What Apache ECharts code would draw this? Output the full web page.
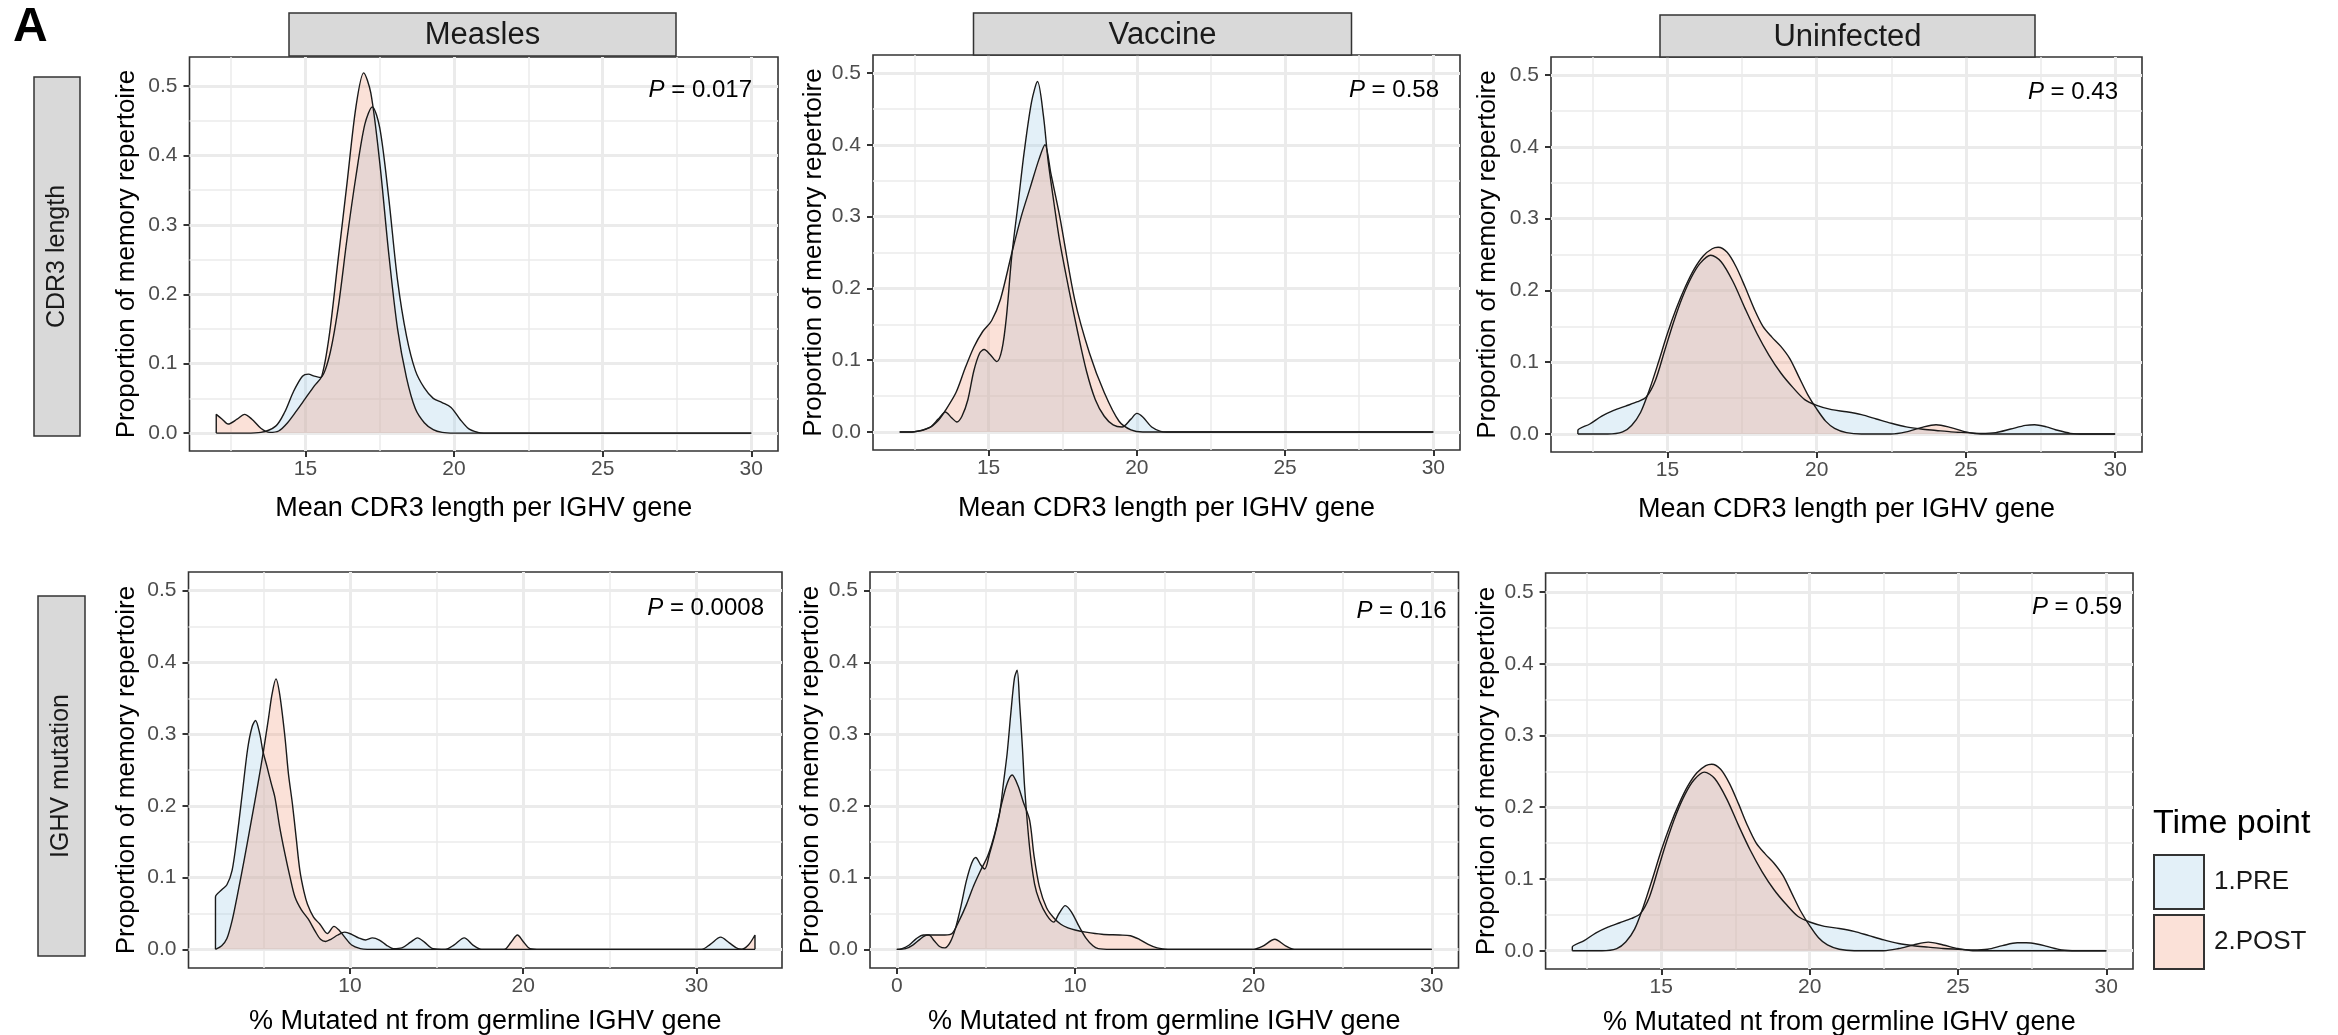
<!DOCTYPE html>
<html>
<head>
<meta charset="utf-8">
<script src="https://cdn.jsdelivr.net/npm/echarts@6/dist/echarts.min.js"></script>
<style>html,body{margin:0;padding:0;background:#fff}#c{width:2338px;height:1035px}</style>
</head>
<body>
<div id="c"></div>
<script>
// ---------------- DATA ----------------
const columns = ['Measles', 'Vaccine', 'Uninfected'];
const rows = ['CDR3 length', 'IGHV mutation'];
const timePoints = ['1.PRE', '2.POST'];
const legendTitle = 'Time point';
const panelLetter = 'A';
const pValues = ['0.017', '0.58', '0.43', '0.0008', '0.16', '0.59'];
const yTitle = 'Proportion of memory repertoire';
const xTitles = ['Mean CDR3 length per IGHV gene', '% Mutated nt from germline IGHV gene'];

const yTicks = [0, 0.1, 0.2, 0.3, 0.4, 0.5];
const yMinor = [0.05, 0.15, 0.25, 0.35, 0.45];
const cdr3Ticks = [15, 20, 25, 30];
const cdr3Minor = [12.5, 17.5, 22.5, 27.5];
const mutTicksMeasles = [10, 20, 30];
const mutMinorMeasles = [5, 15, 25];
const mutTicksVaccine = [0, 10, 20, 30];
const mutMinorVaccine = [5, 15, 25];

// Measles – CDR3 length
const measlesCdr3Pre = [[12,0],[13,0],[13.5,0.001],[14,0.01],[14.3,0.03],[14.6,0.06],[14.9,0.082],[15.1,0.085],[15.3,0.082],[15.5,0.08],[15.8,0.11],[16.1,0.18],[16.4,0.28],[16.7,0.37],[17,0.445],[17.25,0.47],[17.5,0.44],[17.8,0.34],[18.1,0.22],[18.4,0.14],[18.7,0.09],[19,0.065],[19.3,0.05],[19.6,0.044],[19.9,0.037],[20.2,0.02],[20.5,0.006],[20.8,0.001],[21,0],[22,0],[24,0],[26,0],[28,0],[30,0]];
const measlesCdr3Post = [[12,0],[12,0.027],[12.2,0.02],[12.4,0.013],[12.7,0.02],[12.95,0.027],[13.2,0.02],[13.5,0.007],[13.8,0.001],[14.1,0.003],[14.4,0.015],[14.7,0.032],[15,0.05],[15.3,0.068],[15.55,0.082],[15.8,0.14],[16.1,0.25],[16.4,0.36],[16.7,0.47],[16.96,0.519],[17.2,0.49],[17.5,0.39],[17.8,0.26],[18.1,0.15],[18.4,0.08],[18.7,0.035],[19,0.015],[19.3,0.005],[19.6,0.001],[20,0],[22,0],[24,0],[26,0],[28,0],[30,0]];

// Vaccine – CDR3 length
const vaccineCdr3Pre = [[12,0],[12.5,0.0005],[13,0.006],[13.3,0.018],[13.54,0.028],[13.75,0.02],[13.93,0.014],[14.1,0.022],[14.3,0.045],[14.5,0.085],[14.7,0.11],[14.85,0.115],[15.05,0.108],[15.28,0.098],[15.45,0.115],[15.6,0.16],[15.78,0.245],[16,0.32],[16.2,0.39],[16.45,0.46],[16.65,0.488],[16.85,0.44],[17,0.38],[17.2,0.32],[17.4,0.265],[17.7,0.2],[18,0.14],[18.3,0.085],[18.6,0.045],[18.9,0.022],[19.2,0.01],[19.5,0.007],[19.8,0.018],[20,0.026],[20.2,0.021],[20.5,0.007],[20.8,0.001],[21,0],[22,0],[24,0],[26,0],[28,0],[30,0]];
const vaccineCdr3Post = [[12,0],[12.5,0.0005],[13,0.006],[13.3,0.016],[13.54,0.03],[13.9,0.055],[14.2,0.088],[14.5,0.118],[14.8,0.14],[15.1,0.155],[15.4,0.185],[15.78,0.249],[16.1,0.3],[16.4,0.34],[16.7,0.38],[16.9,0.4],[17.1,0.36],[17.4,0.3],[17.9,0.185],[18.4,0.11],[18.9,0.055],[19.4,0.015],[19.8,0.003],[20.2,0],[22,0],[24,0],[26,0],[28,0],[30,0]];

// Uninfected – CDR3 length
const uninfCdr3Pre = [[12,0],[12,0.005],[12.4,0.014],[12.8,0.025],[13.2,0.033],[13.6,0.039],[14,0.045],[14.3,0.052],[14.6,0.075],[14.9,0.115],[15.2,0.155],[15.5,0.19],[15.8,0.218],[16.1,0.238],[16.45,0.249],[16.8,0.24],[17.2,0.212],[17.6,0.175],[18,0.14],[18.4,0.11],[18.8,0.085],[19.2,0.065],[19.6,0.048],[20,0.04],[20.5,0.034],[21,0.031],[21.5,0.027],[22,0.021],[22.5,0.015],[23,0.01],[23.5,0.007],[24,0.005],[24.5,0.003],[25,0.002],[25.5,0.001],[26,0.002],[26.5,0.007],[27,0.012],[27.3,0.013],[27.7,0.01],[28,0.006],[28.5,0.001],[29,0],[30,0]];
const uninfCdr3Post = [[12,0],[13,0],[13.5,0.003],[13.8,0.012],[14.1,0.03],[14.4,0.062],[14.7,0.1],[15,0.14],[15.3,0.175],[15.6,0.205],[15.9,0.23],[16.2,0.248],[16.5,0.258],[16.7,0.26],[17,0.253],[17.3,0.233],[17.6,0.205],[17.9,0.175],[18.2,0.15],[18.5,0.135],[18.8,0.122],[19.1,0.105],[19.4,0.08],[19.7,0.055],[20,0.035],[20.3,0.018],[20.6,0.008],[21,0.002],[21.5,0],[22.5,0],[23,0.003],[23.5,0.009],[24,0.013],[24.5,0.009],[25,0.003],[25.5,0],[27,0],[30,0]];

// Measles – IGHV mutation
const measlesMutPre = [[2.24,0],[2.24,0.073],[2.6,0.083],[2.9,0.09],[3.2,0.11],[3.5,0.16],[3.8,0.22],[4.1,0.28],[4.35,0.31],[4.55,0.319],[4.8,0.3],[4.97,0.277],[5.2,0.256],[5.45,0.232],[5.67,0.212],[5.95,0.17],[6.25,0.133],[6.55,0.1],[6.83,0.073],[7.2,0.055],[7.6,0.042],[8,0.025],[8.3,0.014],[8.6,0.011],[8.9,0.014],[9.3,0.02],[9.7,0.024],[10.1,0.021],[10.5,0.016],[10.9,0.013],[11.3,0.016],[11.7,0.013],[12.1,0.006],[12.5,0.001],[13,0.002],[13.5,0.01],[13.9,0.016],[14.3,0.01],[14.8,0.001],[15.5,0],[16,0.006],[16.6,0.016],[17.1,0.006],[17.6,0],[20,0],[25,0],[30.3,0],[30.8,0.007],[31.4,0.017],[31.9,0.009],[32.4,0.001],[32.9,0],[33.38,0]];
const measlesMutPost = [[2.24,0],[2.6,0.005],[2.9,0.015],[3.2,0.04],[3.5,0.075],[3.9,0.125],[4.3,0.178],[4.7,0.232],[5,0.275],[5.3,0.322],[5.5,0.355],[5.73,0.377],[5.95,0.355],[6.25,0.296],[6.45,0.245],[6.68,0.203],[6.9,0.155],[7.11,0.11],[7.35,0.08],[7.55,0.063],[7.9,0.045],[8.27,0.035],[8.7,0.022],[9.08,0.032],[9.4,0.026],[9.7,0.017],[10.1,0.006],[10.6,0.001],[11,0],[15,0],[18.9,0],[19.3,0.01],[19.67,0.02],[20,0.011],[20.4,0.001],[21,0],[25,0],[30,0],[32.6,0],[33,0.006],[33.38,0.02],[33.38,0]];

// Vaccine – IGHV mutation
const vaccineMutPre = [[0,0],[0.3,0.001],[0.7,0.006],[1.1,0.015],[1.5,0.02],[1.8,0.02],[2.1,0.012],[2.4,0.004],[2.7,0.002],[3,0.01],[3.3,0.03],[3.6,0.06],[3.9,0.095],[4.2,0.12],[4.43,0.128],[4.7,0.118],[4.93,0.112],[5.2,0.133],[5.5,0.16],[5.77,0.19],[6.0,0.235],[6.19,0.273],[6.4,0.33],[6.6,0.378],[6.75,0.389],[6.89,0.343],[7.05,0.28],[7.17,0.226],[7.45,0.142],[7.73,0.091],[8,0.068],[8.4,0.048],[8.8,0.038],[9.1,0.05],[9.45,0.061],[9.8,0.052],[10.2,0.033],[10.6,0.016],[11,0.005],[11.3,0.001],[12,0],[15,0],[20,0],[25,0],[30,0]];
const vaccineMutPost = [[0,0],[0.5,0.001],[0.9,0.006],[1.3,0.014],[1.7,0.02],[2.2,0.02],[2.7,0.02],[3.1,0.022],[3.5,0.04],[3.9,0.062],[4.3,0.088],[4.7,0.11],[5.1,0.13],[5.5,0.162],[5.9,0.205],[6.2,0.232],[6.47,0.243],[6.8,0.228],[7.1,0.205],[7.45,0.18],[7.7,0.13],[8,0.087],[8.4,0.058],[8.8,0.044],[9.2,0.035],[9.6,0.03],[10,0.027],[10.6,0.024],[11.5,0.021],[12.5,0.02],[13.1,0.019],[13.6,0.014],[14.1,0.007],[14.6,0.002],[15.2,0],[20,0],[20.5,0.004],[21.2,0.014],[21.8,0.005],[22.3,0],[25,0],[30,0]];

// Uninfected – IGHV mutation
const uninfMutPre = [[12,0],[12,0.005],[12.4,0.014],[12.8,0.025],[13.2,0.033],[13.6,0.039],[14,0.045],[14.3,0.052],[14.6,0.075],[14.9,0.115],[15.2,0.155],[15.5,0.19],[15.8,0.218],[16.1,0.238],[16.45,0.249],[16.8,0.24],[17.2,0.212],[17.6,0.175],[18,0.14],[18.4,0.11],[18.8,0.085],[19.2,0.065],[19.6,0.048],[20,0.04],[20.5,0.034],[21,0.031],[21.5,0.027],[22,0.021],[22.5,0.015],[23,0.01],[23.5,0.007],[24,0.005],[24.5,0.003],[25,0.002],[25.5,0.001],[26,0.002],[26.5,0.007],[27,0.011],[27.3,0.011],[27.7,0.009],[28,0.006],[28.5,0.001],[29,0],[30,0]];
const uninfMutPost = [[12,0],[13,0],[13.5,0.003],[13.8,0.012],[14.1,0.03],[14.4,0.062],[14.7,0.1],[15,0.14],[15.3,0.175],[15.6,0.205],[15.9,0.23],[16.2,0.248],[16.5,0.258],[16.7,0.26],[17,0.253],[17.3,0.233],[17.6,0.205],[17.9,0.175],[18.2,0.15],[18.5,0.135],[18.8,0.122],[19.1,0.105],[19.4,0.08],[19.7,0.055],[20,0.035],[20.3,0.018],[20.6,0.008],[21,0.002],[21.5,0],[22.5,0],[23,0.003],[23.5,0.008],[24,0.012],[24.5,0.008],[25,0.003],[25.5,0],[27,0],[30,0]];

// ---------------- STYLE / LAYOUT ----------------
const FONT = "'Liberation Sans', Arial, Helvetica, sans-serif";
const PRE_FILL = 'rgba(162,205,232,0.3)';
const POST_FILL = 'rgba(242,155,125,0.3)';
const OUTLINE = '#1a1a1a';

const panels = [
  {pre: measlesCdr3Pre, post: measlesCdr3Post, xt: cdr3Ticks, xm: cdr3Minor, xTitle: xTitles[0], p: pValues[0],
   box: {left:189.5, top:57, width:588.5, height:394}, x:[11.1,30.9], y:[-0.0258,0.5418], yGap:50, xGap:44, pX:752, pY:90},
  {pre: vaccineCdr3Pre, post: vaccineCdr3Post, xt: cdr3Ticks, xm: cdr3Minor, xTitle: xTitles[0], p: pValues[1],
   box: {left:873, top:55, width:587, height:395}, x:[11.1,30.9], y:[-0.025,0.525], yGap:46, xGap:45, pX:1439, pY:90},
  {pre: uninfCdr3Pre, post: uninfCdr3Post, xt: cdr3Ticks, xm: cdr3Minor, xTitle: xTitles[0], p: pValues[2],
   box: {left:1551, top:57, width:591, height:395}, x:[11.1,30.9], y:[-0.025,0.525], yGap:50, xGap:44, pX:2118, pY:92},
  {pre: measlesMutPre, post: measlesMutPost, xt: mutTicksMeasles, xm: mutMinorMeasles, xTitle: xTitles[1], p: pValues[3],
   box: {left:188.5, top:572, width:593.5, height:396}, x:[0.683,34.94], y:[-0.026,0.526], yGap:49, xGap:40, pX:764, pY:608.5},
  {pre: vaccineMutPre, post: vaccineMutPost, xt: mutTicksVaccine, xm: mutMinorVaccine, xTitle: xTitles[1], p: pValues[4],
   box: {left:870, top:572, width:588.5, height:396}, x:[-1.5,31.5], y:[-0.026,0.526], yGap:46.5, xGap:40, pX:1446.5, pY:611},
  {pre: uninfMutPre, post: uninfMutPost, xt: cdr3Ticks, xm: cdr3Minor, xTitle: xTitles[1], p: pValues[5],
   box: {left:1545.6, top:573, width:587.4, height:396}, x:[11.1,30.9], y:[-0.0255,0.5265], yGap:45.5, xGap:40, pX:2122, pY:607}
];

const colStrips = [
  {x:289, y:13, w:387, h:43},
  {x:973.5, y:13, w:378, h:42},
  {x:1660, y:15, w:375, h:42}
];
const rowStrips = [
  {x:34, y:77, w:46, h:359},
  {x:38, y:596, w:47, h:360}
];

const grids = [], xAxes = [], yAxes = [], series = [], graphics = [];

panels.forEach((pn, i) => {
  grids.push(Object.assign({
    show: true, borderColor: '#333333', borderWidth: 1.6, backgroundColor: '#ffffff',
    containLabel: false, outerBoundsMode: 'none'
  }, pn.box));

  xAxes.push({
    gridIndex: i, type: 'value', min: pn.x[0], max: pn.x[1],
    name: pn.xTitle, nameLocation: 'middle', nameGap: pn.xGap, nameMoveOverlap: false,
    nameTextStyle: {fontSize: 27, color: '#000', fontFamily: FONT},
    axisLine: {show: false, onZero: false},
    axisTick: {show: true, customValues: pn.xt, length: 6, lineStyle: {color: '#333', width: 2}},
    axisLabel: {show: true, customValues: pn.xt, margin: 8, fontSize: 21, color: '#4d4d4d', fontFamily: FONT},
    splitLine: {show: false}, minorTick: {show: false}, minorSplitLine: {show: false}
  });
  yAxes.push({
    gridIndex: i, type: 'value', min: pn.y[0], max: pn.y[1],
    name: yTitle, nameLocation: 'middle', nameGap: pn.yGap, nameMoveOverlap: false,
    nameTextStyle: {fontSize: 26, color: '#000', fontFamily: FONT},
    axisLine: {show: false, onZero: false},
    axisTick: {show: true, customValues: yTicks, length: 6, lineStyle: {color: '#333', width: 2}},
    axisLabel: {show: true, customValues: yTicks, margin: 12, fontSize: 21, color: '#4d4d4d', fontFamily: FONT,
                formatter: v => Number(v).toFixed(1)},
    splitLine: {show: false}, minorTick: {show: false}, minorSplitLine: {show: false}
  });

  const gl = [];
  pn.xt.forEach(v => gl.push({xAxis: v, lineStyle: {color: '#ebebeb', width: 3, type: 'solid'}}));
  pn.xm.forEach(v => gl.push({xAxis: v, lineStyle: {color: '#ebebeb', width: 1.5, type: 'solid'}}));
  yTicks.forEach(v => gl.push({yAxis: v, lineStyle: {color: '#ebebeb', width: 3, type: 'solid'}}));
  yMinor.forEach(v => gl.push({yAxis: v, lineStyle: {color: '#ebebeb', width: 1.5, type: 'solid'}}));

  series.push({
    name: 'gridlines' + i, type: 'line', xAxisIndex: i, yAxisIndex: i, data: [], silent: true, z: 1,
    markLine: {silent: true, z: 1, symbol: ['none', 'none'], label: {show: false}, animation: false,
               emphasis: {disabled: true}, data: gl}
  });
  [[timePoints[0], pn.pre, PRE_FILL], [timePoints[1], pn.post, POST_FILL]].forEach(([nm, d, fill]) => {
    series.push({
      name: nm, type: 'line', xAxisIndex: i, yAxisIndex: i, data: d, z: 3,
      smooth: 0.3, symbol: 'none', showSymbol: false, silent: true,
      lineStyle: {color: OUTLINE, width: 1.4},
      itemStyle: {color: fill},
      areaStyle: {color: fill, opacity: 1},
      emphasis: {disabled: true}
    });
  });

  graphics.push({
    type: 'text', silent: true, z: 100,
    style: {
      text: '{i|P} = ' + pn.p, x: pn.pX, y: pn.pY, align: 'right', verticalAlign: 'middle',
      textAlign: 'right', textVerticalAlign: 'middle',
      fontSize: 24, fontFamily: FONT, fill: '#000',
      rich: {i: {fontStyle: 'italic', fontSize: 24, fontFamily: FONT, fill: '#000'}}
    }
  });
});

colStrips.forEach((s, i) => {
  graphics.push({type: 'rect', silent: true, z: 100, shape: {x: s.x, y: s.y, width: s.w, height: s.h},
                 style: {fill: '#d9d9d9', stroke: '#333333', lineWidth: 1.5}});
  graphics.push({type: 'text', silent: true, z: 101,
                 style: {text: columns[i], x: s.x + s.w / 2, y: s.y + s.h / 2 + 1, align: 'center', verticalAlign: 'middle',
                         textAlign: 'center', textVerticalAlign: 'middle', fontSize: 31, fontFamily: FONT, fill: '#1a1a1a'}});
});
rowStrips.forEach((s, i) => {
  graphics.push({type: 'rect', silent: true, z: 100, shape: {x: s.x, y: s.y, width: s.w, height: s.h},
                 style: {fill: '#d9d9d9', stroke: '#333333', lineWidth: 1.5}});
  graphics.push({type: 'text', silent: true, z: 101, x: s.x + s.w / 2, y: s.y + s.h / 2, rotation: Math.PI / 2,
                 style: {text: rows[i], x: 0, y: 0, align: 'center', verticalAlign: 'middle',
                         textAlign: 'center', textVerticalAlign: 'middle', fontSize: 25, fontFamily: FONT, fill: '#1a1a1a'}});
});

graphics.push({type: 'text', silent: true, z: 100,
  style: {text: panelLetter, x: 13, y: 4, align: 'left', verticalAlign: 'top', textAlign: 'left', textVerticalAlign: 'top',
          fontSize: 48, fontWeight: 'bold', fontFamily: FONT, fill: '#000'}});
graphics.push({type: 'text', silent: true, z: 100,
  style: {text: legendTitle, x: 2153, y: 807, align: 'left', verticalAlign: 'top', textAlign: 'left', textVerticalAlign: 'top',
          fontSize: 34, fontFamily: FONT, fill: '#000'}});

const chart = echarts.init(document.getElementById('c'), null, {renderer: 'canvas', width: 2338, height: 1035});
chart.setOption({
  animation: false,
  backgroundColor: '#ffffff',
  grid: grids,
  xAxis: xAxes,
  yAxis: yAxes,
  legend: {
    show: true, left: 2153, top: 854, orient: 'vertical', padding: 0,
    itemWidth: 50, itemHeight: 54, itemGap: 4, selectedMode: false, icon: 'rect',
    textStyle: {fontSize: 26, color: '#1a1a1a', fontFamily: FONT, padding: [0, 0, 0, 5]},
    data: [
      {name: timePoints[0], icon: 'rect', itemStyle: {color: PRE_FILL, borderColor: '#333333', borderWidth: 2}},
      {name: timePoints[1], icon: 'rect', itemStyle: {color: POST_FILL, borderColor: '#333333', borderWidth: 2}}
    ]
  },
  tooltip: {show: false},
  graphic: {elements: graphics},
  series: series
});
</script>
</body>
</html>
